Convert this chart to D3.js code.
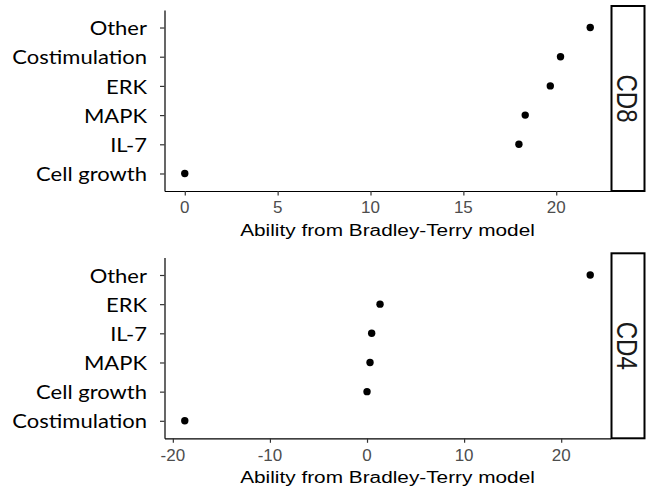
<!DOCTYPE html>
<html>
<head>
<meta charset="utf-8">
<script src="https://cdn.jsdelivr.net/npm/d3@7"></script>
<style>
  html, body { margin: 0; padding: 0; background: #fff; }
  svg { display: block; }
</style>
</head>
<body>
<svg id="chart" width="658" height="489"></svg>
<script>
// Bradley-Terry abilities per pathway, listed bottom-to-top as plotted
const cd8Categories = ["Cell growth", "IL-7", "MAPK", "ERK", "Costimulation", "Other"];
const cd8Ability    = [0, 17.99, 18.33, 19.68, 20.23, 21.83];
const cd4Categories = ["Costimulation", "Cell growth", "MAPK", "IL-7", "ERK", "Other"];
const cd4Ability    = [-18.77, 0, 0.31, 0.48, 1.34, 22.99];
const cd8Ticks = [0, 5, 10, 15, 20];
const cd4Ticks = [-20, -10, 0, 10, 20];
const facetLabels = ["CD8", "CD4"];
const axisTitle = "Ability from Bradley-Terry model";

const svg = d3.select("#chart");
const squash = 0.83;              // vertical text compression
const left = 164.5, right = 610.5;
const stripX0 = 611.5, stripX1 = 644.5;

// size the category labels so the longest one spans its slot
const probe = svg.append("text").attr("font-family", "Lato, 'Open Sans', sans-serif")
  .attr("font-size", 100).text("Costimulation");
const labelSize = 100 * 134.7 / probe.node().getComputedTextLength();
probe.remove();

function drawPanel(cats, vals, ticks, facet, top, bottom, stripTop) {
  const g = svg.append("g");
  const ext = d3.extent(vals);
  const pad = (ext[1] - ext[0]) * 0.05;
  const x = d3.scaleLinear().domain([ext[0] - pad, ext[1] + pad]).range([left, right]);
  const y = d3.scalePoint().domain(cats.slice().reverse()).range([top, bottom]).padding(0.6);

  // axes (lines and ticks from d3, labels drawn separately)
  const xAxis = g.append("g").attr("transform", `translate(0,${bottom})`)
    .call(d3.axisBottom(x).tickValues(ticks).tickSize(4.5).tickSizeOuter(0).tickFormat(""));
  const yAxis = g.append("g").attr("transform", `translate(${left},0)`)
    .call(d3.axisLeft(y).tickSize(4.5).tickSizeOuter(0).tickFormat(""));
  [xAxis, yAxis].forEach(a => {
    a.select(".domain").attr("stroke", "#000").attr("stroke-width", 1.2);
    a.selectAll(".tick line").attr("stroke", "#333").attr("stroke-width", 1.2);
  });

  // category labels
  g.selectAll("text.cat").data(cats).join("text")
    .attr("class", "cat")
    .attr("transform", d => `translate(147,${y(d)}) scale(1,${squash})`)
    .attr("dy", "0.42em")
    .attr("text-anchor", "end")
    .attr("font-family", "Lato, 'Open Sans', sans-serif")
    .attr("font-size", labelSize)
    .attr("fill", "#000")
    .text(d => d);

  // numeric tick labels (plain hyphen for negatives)
  g.selectAll("text.tick").data(ticks).join("text")
    .attr("class", "tick")
    .attr("transform", d => `translate(${x(d)},${bottom + 16.5}) scale(1,0.95)`)
    .attr("dy", "0.358em")
    .attr("text-anchor", "middle")
    .attr("font-family", "'Liberation Sans', Arial, sans-serif")
    .attr("font-size", 17)
    .attr("fill", "#4d4d4d")
    .text(d => String(d));

  // axis title
  g.append("text")
    .attr("transform", `translate(${(left + right) / 2},${bottom + 38.5}) scale(1,${squash})`)
    .attr("dy", "0.358em")
    .attr("text-anchor", "middle")
    .attr("font-family", "'Liberation Sans', Arial, sans-serif")
    .attr("font-size", 20.8)
    .attr("fill", "#000")
    .text(axisTitle);

  // points
  g.selectAll("circle").data(cats).join("circle")
    .attr("cx", (d, i) => x(vals[i]))
    .attr("cy", d => y(d))
    .attr("r", 3.7)
    .attr("fill", "#000");

  // facet strip
  g.append("rect")
    .attr("x", stripX0).attr("y", stripTop)
    .attr("width", stripX1 - stripX0).attr("height", bottom - stripTop)
    .attr("fill", "#fff").attr("stroke", "#000").attr("stroke-width", 2);
  g.append("text")
    .attr("transform", `translate(${(stripX0 + stripX1) / 2 - 1},${(stripTop + bottom) / 2}) scale(1,${squash}) rotate(90)`)
    .attr("dy", "0.358em")
    .attr("text-anchor", "middle")
    .attr("font-family", "'Liberation Sans', Arial, sans-serif")
    .attr("font-size", 29)
    .attr("fill", "#1a1a1a")
    .text(facet);
}

drawPanel(cd8Categories, cd8Ability, cd8Ticks, facetLabels[0], 10, 191, 6);
drawPanel(cd4Categories, cd4Ability, cd4Ticks, facetLabels[1], 257.5, 438.3, 253.3);
</script>
</body>
</html>
